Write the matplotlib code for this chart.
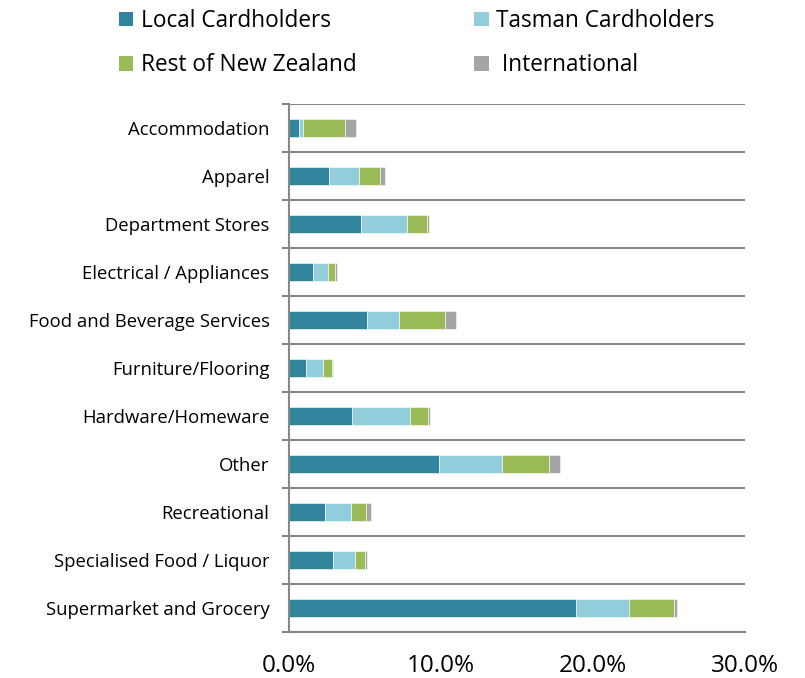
import matplotlib
matplotlib.use("Agg")
import matplotlib.pyplot as plt
from matplotlib.patches import Patch
from matplotlib.ticker import FixedLocator, FuncFormatter
import numpy as np

categories = ["Accommodation", "Apparel", "Department Stores", "Electrical / Appliances",
              "Food and Beverage Services", "Furniture/Flooring", "Hardware/Homeware",
              "Other", "Recreational", "Specialised Food / Liquor", "Supermarket and Grocery"]
local = [0.66, 2.65, 4.74, 1.60, 5.15, 1.12, 4.14, 9.87, 2.37, 2.89, 18.88]
tasman = [0.26, 1.96, 3.00, 0.99, 2.06, 1.09, 3.84, 4.12, 1.71, 1.47, 3.47]
rest_nz = [2.78, 1.40, 1.36, 0.46, 3.03, 0.64, 1.19, 3.14, 1.01, 0.66, 2.96]
international = [0.71, 0.33, 0.09, 0.13, 0.75, 0.03, 0.08, 0.70, 0.30, 0.09, 0.24]
series_names = ["Local Cardholders", "Tasman Cardholders", "Rest of New Zealand", " International"]
colors = ["#31849B", "#92CDDC", "#9BBB59", "#A5A5A5"]
xticks = [0, 10, 20, 30]

plt.rcParams['font.family'] = ['Open Sans', 'DejaVu Sans']

fig = plt.figure(figsize=(8.05, 6.78), dpi=100)
ax = fig.add_axes([289/805, (678-632)/678, (745-289)/805, (632-104)/678])

n = len(categories)
y = np.arange(n)[::-1]
left = np.zeros(n)
for vals, name, c in zip([local, tasman, rest_nz, international], series_names, colors):
    v = np.array(vals)
    ax.barh(y, v, left=left, height=0.39, color=c, label=name, edgecolor='white', linewidth=0.4)
    left += v

ax.set_xlim(0, 30)
ax.set_ylim(-0.5, n - 0.5)
ax.set_xticks(xticks)
ax.xaxis.set_major_formatter(FuncFormatter(lambda v, p: f"{v:.1f}%"))
ax.tick_params(axis='x', length=0, pad=16, labelsize=17.5)

ax.yaxis.set_major_locator(FixedLocator(np.arange(-0.5, n, 1.0)))
ax.yaxis.set_major_formatter(FuncFormatter(lambda v, p: ""))
ax.set_yticks(y, minor=True)
ax.set_yticklabels(categories, minor=True)
ax.tick_params(axis='y', which='major', length=5, width=1.5, color='#888888')
ax.tick_params(axis='y', which='minor', length=0, pad=14, labelsize=13.3)
ax.grid(axis='y', which='major', color='#888888', linewidth=1.5)
ax.set_axisbelow(True)

for s in ['top', 'right']:
    ax.spines[s].set_visible(False)
for s in ['left', 'bottom']:
    ax.spines[s].set_color('#888888')
    ax.spines[s].set_linewidth(1.5)

# legend: row 1 = Local, Tasman; row 2 = Rest of NZ, International (column-major order)
order = [0, 2, 1, 3]
handles = [Patch(facecolor=colors[i], edgecolor='none') for i in order]
labels = [series_names[i] for i in order]
fig.legend(handles, labels, loc='upper left', bbox_to_anchor=(119/805, 1.0 - 9/678),
           ncol=2, frameon=False, fontsize=16.3, handlelength=0.63, handleheight=0.63,
           handletextpad=0.34, columnspacing=5.2, labelspacing=0.9,
           borderpad=0, borderaxespad=0)

fig.savefig("out.png", dpi=100)
